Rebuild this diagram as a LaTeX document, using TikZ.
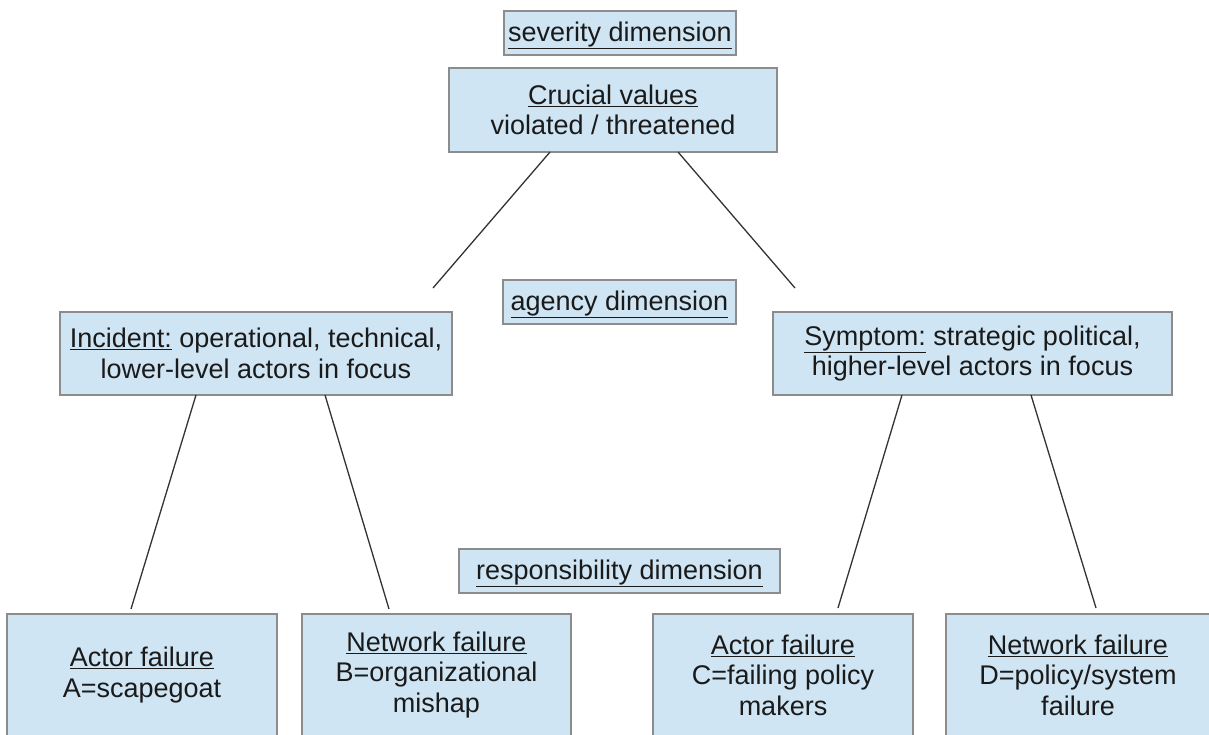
\documentclass[tikz,border=0pt]{standalone}
\usepackage{fontspec}
\setmainfont{Liberation Sans}
\definecolor{boxfill}{HTML}{CFE5F3}
\definecolor{boxline}{HTML}{8C8C8C}
\definecolor{txt}{HTML}{1A1A1A}
\definecolor{conn}{HTML}{333333}
\begin{document}
\begin{tikzpicture}[x=1pt,y=-1pt,
  box/.style={draw=boxline, fill=boxfill, line width=1.4pt, inner sep=0pt, align=center, text=txt,
    font=\fontsize{27}{30.5}\selectfont},
  dimlabel/.style={box, text height=20pt, text depth=4pt, minimum height=44pt},
  link/.style={draw=conn, line width=1.3pt}]
\useasboundingbox (0,0) rectangle (1209,734);
\clip (0,0) rectangle (1209,734);
\fill[white] (0,0) rectangle (1209,734);
% labels
\node[dimlabel, minimum width=232pt] (sev) at (620,33) {\underline{severity dimension}};
\node[dimlabel, minimum width=233pt] (agn) at (619.5,302) {\underline{agency dimension}};
\node[dimlabel, minimum width=321pt] (res) at (619.5,571) {\underline{responsibility dimension}};
% main boxes
\node[box, minimum width=328pt, minimum height=84pt] (cru) at (613,110) {\underline{Crucial values}\\violated / threatened};
\node[box, minimum width=392pt, minimum height=83pt] (inc) at (256,353.5) {\underline{Incident:} operational, technical,\\lower-level actors in focus};
\node[box, minimum width=399pt, minimum height=83pt] (sym) at (972.5,353.5) {\underline{Symptom:} strategic political,\\higher-level actors in focus};
\node[box, minimum width=270pt, minimum height=122pt] (a) at (142,675) {\underline{Actor failure}\\A=scapegoat};
\node[box, minimum width=269pt, minimum height=122pt] (b) at (436.5,675) {\underline{Network failure}\\B=organizational\\mishap};
\node[box, minimum width=260pt, minimum height=122pt] (c) at (783,675) {\underline{Actor failure}\\C=failing policy\\makers};
\node[box, minimum width=264pt, minimum height=122pt] (d) at (1078,675) {\underline{Network failure}\\D=policy/system\\failure};
% connector ends
\coordinate (cl) at (550,152);
\coordinate (cr) at (678,152);
\coordinate (il) at (196,395);
\coordinate (ir) at (325,395);
\coordinate (sl) at (902,395);
\coordinate (sr) at (1031,395);
\coordinate (incTop) at (433,288);
\coordinate (symTop) at (795,288);
\coordinate (aTop) at (131,609);
\coordinate (bTop) at (389,609);
\coordinate (cTop) at (838,608);
\coordinate (dTop) at (1096,608);
\draw[link] (cl) -- (incTop);
\draw[link] (cr) -- (symTop);
\draw[link] (il) -- (aTop);
\draw[link] (ir) -- (bTop);
\draw[link] (sl) -- (cTop);
\draw[link] (sr) -- (dTop);
\end{tikzpicture}
\end{document}
